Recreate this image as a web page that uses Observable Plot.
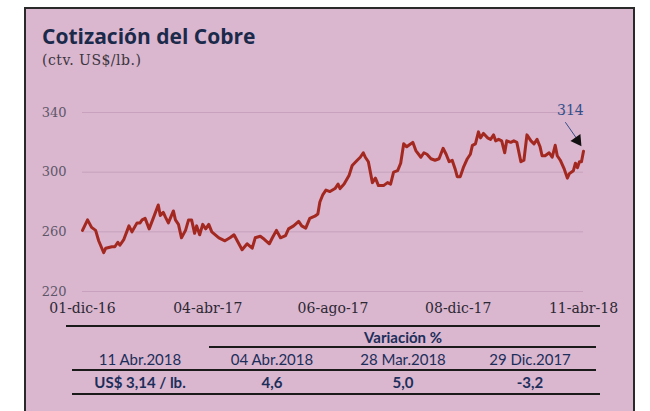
<!DOCTYPE html>
<html>
<head>
<meta charset="utf-8">
<script src="https://cdn.jsdelivr.net/npm/d3@7"></script>
<script src="https://cdn.jsdelivr.net/npm/@observablehq/plot@0.6"></script>
<style>
  html, body { margin: 0; padding: 0; background: #ffffff; }
  body { width: 650px; height: 411px; overflow: hidden; position: relative; }
  #box { position: absolute; left: 24px; top: 7px; width: 607px; height: 430px;
         background: #dab6cf; border: 2px solid #2a2a2a; }
  #chart { position: absolute; left: 0; top: 0; }
  .t { position: absolute; white-space: nowrap; }
  #title { left: 42px; top: 25px; font: bold 21px/22px "Open Sans", sans-serif; color: #1b2a4a; letter-spacing: 0px; }
  #subtitle { left: 42px; top: 52px; font: 14px/16px "DejaVu Serif", serif; color: #3a3540; letter-spacing: 0.5px; }
  .cell { position: absolute; width: 200px; text-align: center; font: 15px/18px Lato, sans-serif; color: #1c2e5a; }
  .bold { font-weight: bold; }
  .rule { position: absolute; height: 2px; background: #1a1a1a; }
</style>
</head>
<body>
<div id="box"></div>
<div id="chart"></div>
<div id="title" class="t">Cotización del Cobre</div>
<div id="subtitle" class="t">(ctv. US$/lb.)</div>
<div id="table"></div>
<script>
// ---- data ----
const startDate = "2016-12-01";
const dayOffsets = [0,5,9,13,16,21,23,29,32,35,37,41,46,49,54,57,59,62,66,70,75,77,80,82,85,90,92,95,98,102,105,108,111,113,116,119,122,125,128,135,141,146,150,154,158,163,168,171,176,180,185,188,192,196,201,204,209,214,217,221,225,230,233,235,238,241,245,250,253,255,259,264,267,272,275,278,280,283,287,290,293,298,302,305,308,312,315,318,321,323,327,330,335,338,341,345,349,353,357,360,363,366,369,371,374,377,381,384,386,389,392,394,397,401,404,407,409,412,415,418,420,424,427,430,434,437,440,444,447,450,453,455,458,462,465,468,470,473,477,480,482,486,488,490,492,494,496];
const prices = [261,268,263,261,254,246,249,250,250,253,251,255,264,260,266,266,268,269,262,269,278,271,273,270,266,274,268,265,256,261,268,268,259,264,258,265,262,265,260,256,254,256,258,253,248,252,249,256,257,255,252,256,261,256,257.5,262,264,267,264,262.5,269,270.5,272,280,285,288,287,289,292,289,292,298,304.5,308,310,313,310,307,293,296,291,291,293,292,300,301,306,319,317,318,320,314.5,310,313,312,309,308,309,316,312,307,308,302,297,297,303,309,312,318,319,327,323,326,323,322,325,321,322,321,313,321,320,321,320,307,308,325,321,319,322,317,311,311,313,310,318,311,308,302,296,299,301,306,303,307,307,314];

const yTicks = [220, 260, 300, 340];
const xTickDates = ["2016-12-01", "2017-04-04", "2017-08-06", "2017-12-08", "2018-04-11"];
const xTickLabels = ["01-dic-16", "04-abr-17", "06-ago-17", "08-dic-17", "11-abr-18"];

// annotation (data units: day offset, price)
const lastLabel = "314";
const labelPos = [483, 341.5];
const arrowFrom = [478, 333.5];
const arrowTo = [489, 322.8];
const headPos = [490, 321.3];

// table
const variationHeader = "Variación %";
const tableDates = ["11 Abr.2018", "04 Abr.2018", "28 Mar.2018", "29 Dic.2017"];
const tableValues = ["US$ 3,14 / lb.", "4,6", "5,0", "-3,2"];

// ---- build ----
const base = new Date(startDate + "T00:00:00Z");
const toDate = d => d3.utcDay.offset(base, d);
const series = dayOffsets.map((d, i) => ({date: toDate(d), price: prices[i]}));
const xTicks = xTickDates.map(s => new Date(s + "T00:00:00Z"));
const labelMap = new Map(xTicks.map((d, i) => [+d, xTickLabels[i]]));

const chart = Plot.plot({
  width: 650,
  height: 330,
  marginLeft: 82,
  marginRight: 67,
  marginTop: 112,
  marginBottom: 39,
  style: {background: "transparent", fontFamily: "'DejaVu Serif', serif", fontSize: "14px", overflow: "visible"},
  x: {type: "utc", domain: [xTicks[0], xTicks[xTicks.length - 1]]},
  y: {domain: [220, 340]},
  marks: [
    Plot.ruleY(yTicks, {stroke: "#c7a1bd", strokeWidth: 1}),
    Plot.axisY({ticks: yTicks, tickSize: 0, tickPadding: 16, label: null, fill: "#5d5668", fontSize: 13}),
    Plot.axisX({ticks: xTicks, tickSize: 0, tickPadding: 12, label: null, fill: "#2c2833", fontSize: 14,
                tickFormat: d => labelMap.get(+d)}),
    Plot.line(series, {x: "date", y: "price", stroke: "#a3281f", strokeWidth: 3, strokeLinejoin: "round"}),
    Plot.link([0], {x1: () => toDate(arrowFrom[0]), y1: () => arrowFrom[1],
                    x2: () => toDate(arrowTo[0]), y2: () => arrowTo[1], stroke: "#34508a", strokeWidth: 1}),
    Plot.dot([0], {x: () => toDate(headPos[0]), y: () => headPos[1], symbol: "triangle", r: 4.5,
                   fill: "#111", stroke: "none", rotate: 145}),
    Plot.text([lastLabel], {x: () => toDate(labelPos[0]), y: () => labelPos[1], text: d => d,
                            fill: "#34508a", fontSize: 14})
  ]
});
document.getElementById("chart").appendChild(chart);

// table
const table = document.getElementById("table");
const colCenters = [140, 272, 403, 530];
function cell(text, cx, cy, bold) {
  const el = document.createElement("div");
  el.className = "cell" + (bold ? " bold" : "");
  el.textContent = text;
  el.style.left = (cx - 100) + "px";
  el.style.top = (cy - 9) + "px";
  table.appendChild(el);
}
function rule(x1, x2, y) {
  const el = document.createElement("div");
  el.className = "rule";
  el.style.left = x1 + "px";
  el.style.width = (x2 - x1) + "px";
  el.style.top = (y - 1) + "px";
  table.appendChild(el);
}
rule(66, 600, 326);
cell(variationHeader, 403, 337, true);
rule(209, 596, 347);
tableDates.forEach((t, i) => cell(t, colCenters[i], 359, false));
rule(72, 596, 370);
tableValues.forEach((t, i) => cell(t, colCenters[i], 382, true));
rule(72, 600, 394);
</script>
</body>
</html>
